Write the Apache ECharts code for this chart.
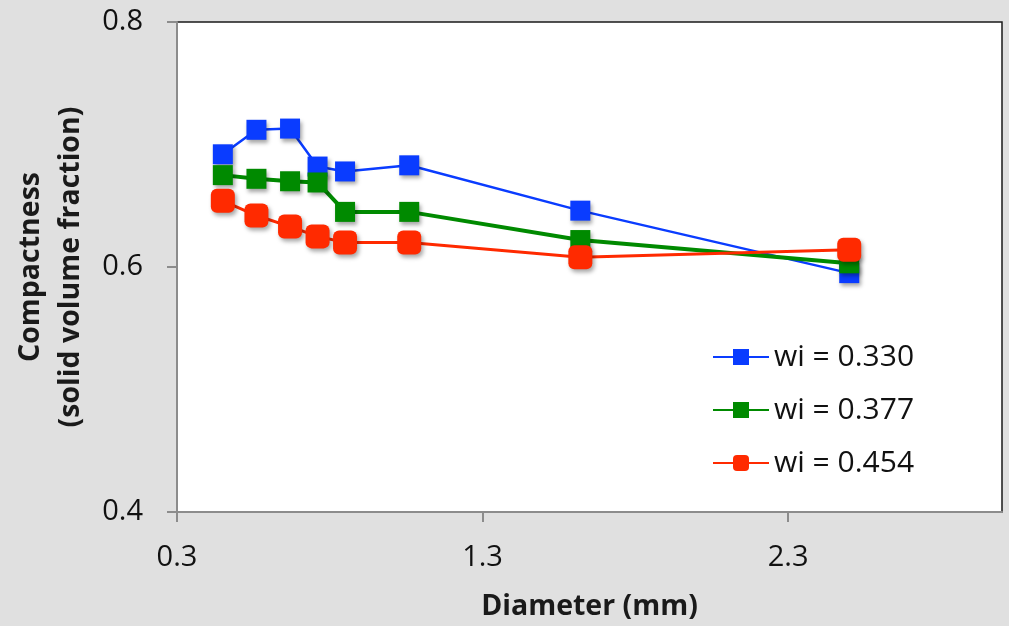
<!DOCTYPE html>
<html><head><meta charset="utf-8">
<script src="https://cdn.jsdelivr.net/npm/echarts@6/dist/echarts.min.js"></script>
<style>html,body{margin:0;padding:0;background:#e0e0e0;}#c{width:1009px;height:626px;}</style>
</head><body><div id="c"></div>
<script>
const diameters = [0.45, 0.56, 0.67, 0.76, 0.85, 1.06, 1.62, 2.50];
const wi330 = [0.692, 0.712, 0.713, 0.682, 0.678, 0.683, 0.646, 0.595];
const wi377 = [0.675, 0.672, 0.670, 0.669, 0.645, 0.645, 0.622, 0.603];
const wi454 = [0.654, 0.642, 0.633, 0.625, 0.620, 0.620, 0.608, 0.614];
const seriesNames = ['wi = 0.330', 'wi = 0.377', 'wi = 0.454'];
const xTicks = [0.3, 1.3, 2.3];

const font = '"Open Sans", "DejaVu Sans", sans-serif';
const chart = echarts.init(document.getElementById('c'), null, {renderer: 'canvas'});
function mk(name, vals, color, lw, sym, size) {
  return {
    name: name, type: 'line', data: diameters.map((d, i) => [d, vals[i]]),
    symbol: sym, symbolSize: size, showSymbol: true,
    lineStyle: {color: color, width: lw},
    itemStyle: {color: color, shadowColor: 'rgba(0,0,0,0.35)', shadowBlur: 4, shadowOffsetX: 2, shadowOffsetY: 3},
    emphasis: {disabled: true}, animation: false
  };
}
chart.setOption({
  backgroundColor: '#e0e0e0',
  animation: false,
  grid: {left: 177, right: 7, top: 22, bottom: 114, show: true, backgroundColor: '#ffffff', borderColor: '#1a1a1a', borderWidth: 1.5},
  xAxis: {
    type: 'value', min: 0.3, max: 3.0, interval: 1,
    name: 'Diameter (mm)', nameLocation: 'middle', nameGap: 80,
    nameTextStyle: {fontFamily: font, fontWeight: 'bold', fontSize: 28.5, color: '#1a1a1a'},
    axisLine: {show: true, lineStyle: {color: '#8c8c8c', width: 2}},
    axisTick: {show: true, length: 10, lineStyle: {color: '#8c8c8c', width: 2}, customValues: xTicks},
    axisLabel: {fontFamily: font, fontSize: 29, color: '#111', margin: 31, customValues: xTicks, formatter: v => v.toFixed(1)},
    splitLine: {show: false}
  },
  yAxis: {
    type: 'value', min: 0.4, max: 0.8, interval: 0.2,
    name: 'Compactness\n(solid volume fraction)', nameLocation: 'middle', nameGap: 86,
    nameTextStyle: {fontFamily: font, fontWeight: 'bold', fontSize: 28.5, color: '#1a1a1a', lineHeight: 40},
    axisLine: {show: true, lineStyle: {color: '#8c8c8c', width: 2}},
    axisTick: {show: true, length: 10, lineStyle: {color: '#8c8c8c', width: 2}},
    axisLabel: {fontFamily: font, fontSize: 29, color: '#111', margin: 34, formatter: v => v.toFixed(1)},
    splitLine: {show: false}
  },
  legend: {
    orient: 'vertical', left: 707, top: 337, itemWidth: 56, itemHeight: 20, itemGap: 23,
    textStyle: {fontFamily: font, fontSize: 30, color: '#111', padding: [0, 0, 0, 0]},
    data: seriesNames
  },
  series: [
    mk(seriesNames[0], wi330, '#0a3cff', 2.5, 'rect', 20),
    mk(seriesNames[1], wi377, '#008a00', 4, 'rect', 20),
    mk(seriesNames[2], wi454, '#ff2a00', 3, 'roundRect', 24)
  ]
});
</script></body></html>
